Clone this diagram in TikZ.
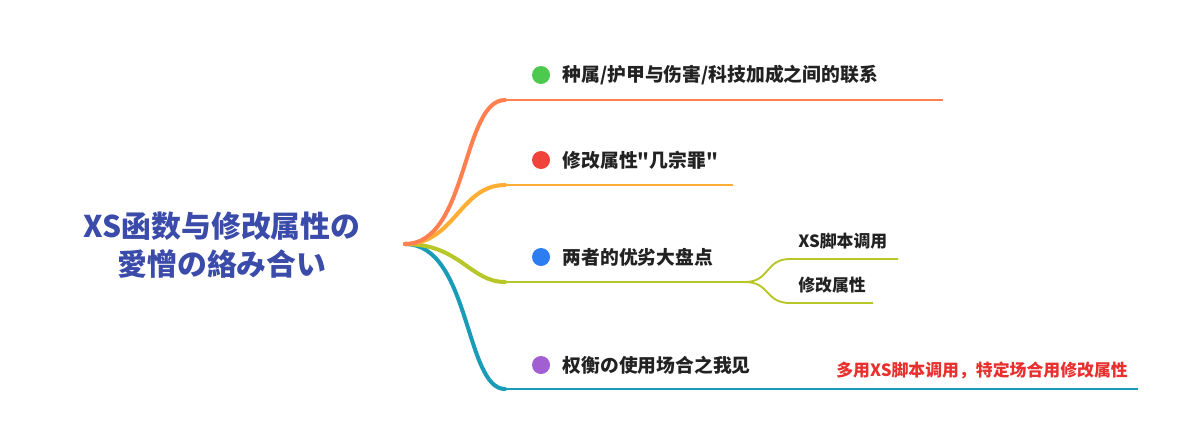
\documentclass[tikz,border=0pt]{standalone}
\usepackage{fontspec}
\newfontfamily\cjk{Noto Sans CJK SC}
\usetikzlibrary{positioning}

\definecolor{titleblue}{HTML}{3A4BA9}
\definecolor{ink}{HTML}{222222}
\definecolor{brorange}{HTML}{FF7F4F}
\definecolor{bryellow}{HTML}{FFAE33}
\definecolor{brgreen}{HTML}{B7C72A}
\definecolor{brteal}{HTML}{1A9CB9}
\definecolor{dotgreen}{HTML}{4CC94F}
\definecolor{dotred}{HTML}{F0443A}
\definecolor{dotblue}{HTML}{2C7CF2}
\definecolor{dotpurple}{HTML}{A25FD3}
\definecolor{notered}{HTML}{E8312F}

\begin{document}
\begin{tikzpicture}[x=0.02cm, y=-0.02cm]
    \tikzstyle{title}=[align=center, inner sep=0pt, text=titleblue, font=\cjk\bfseries\fontsize{17}{21.5}\selectfont];
    \tikzstyle{dot}=[circle, fill, inner sep=0pt, minimum size=0.36cm];
    \tikzstyle{lbl}=[anchor=west, inner sep=0pt, text=ink, font=\cjk\bfseries\fontsize{10.7}{12}\selectfont];
    \tikzstyle{sublbl}=[anchor=west, inner sep=0pt, text=ink, font=\cjk\bfseries\fontsize{9.6}{11}\selectfont];
    \tikzstyle{curve}=[line width=2.3pt, line cap=round];
    \tikzstyle{flat}=[line width=1.1pt];
    \useasboundingbox (0,0) rectangle (1192,444);

    % root
    \node[title] (root) at (222,245) {XS函数与修改属性の\\愛憎の絡み合い};
    \coordinate (hub) at (405,244);

    % branch ends
    \coordinate (c1) at (505,100);  \coordinate (e1) at (943,100);
    \coordinate (c2) at (505,185);  \coordinate (e2) at (733,185);
    \coordinate (c3) at (505,282);  \coordinate (e3) at (745,282);
    \coordinate (c4) at (505,389);  \coordinate (e4) at (1138,389);

    % dots and labels
    \foreach \i/\y/\c in {1/75/dotgreen, 2/160/dotred, 3/257/dotblue, 4/365/dotpurple} {
      \node[dot, fill=\c] (d\i) at (541,\y) {};
    }
    \node[lbl, right=0.24cm of d1] (b1) {种属/护甲与伤害/科技加成之间的联系};
    \node[lbl, right=0.24cm of d2] (b2) {修改属性"几宗罪"};
    \node[lbl, right=0.24cm of d3] (b3) {两者的优劣大盘点};
    \node[lbl, right=0.24cm of d4] (b4) {权衡の使用场合之我见};

    % branches
    \draw[curve, brteal] (hub) .. controls (470,244) and (465,389) .. (c4);
    \draw[flat, brteal] (c4) -- (e4);
    \draw[curve, brgreen] (hub) .. controls (460,244) and (470,282) .. (c3);
    \draw[flat, brgreen] (c3) -- (e3);
    \draw[curve, bryellow] (hub) .. controls (455,244) and (460,185) .. (c2);
    \draw[flat, bryellow] (c2) -- (e2);
    \draw[curve, brorange] (hub) .. controls (468,244) and (462,100) .. (c1);
    \draw[flat, brorange] (c1) -- (e1);

    % sub branches
    \coordinate (s1a) at (790,259);  \coordinate (s1b) at (898,259);
    \coordinate (s2a) at (790,303);  \coordinate (s2b) at (873,303);
    \draw[flat, brgreen] (e3) .. controls (770,282) and (765,259) .. (s1a) -- (s1b);
    \draw[flat, brgreen] (e3) .. controls (770,282) and (765,303) .. (s2a) -- (s2b);
    \node[sublbl] (s1) at (798,241) {XS脚本调用};
    \node[sublbl] (s2) at (798,285) {修改属性};

    % note
    \node[sublbl, text=notered] (note) at (836,370) {多用XS脚本调用，特定场合用修改属性};
\end{tikzpicture}
\end{document}
